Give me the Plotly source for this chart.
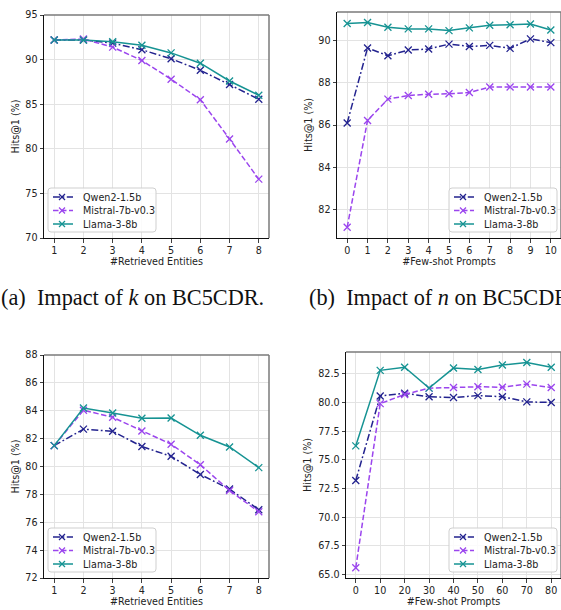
import plotly.graph_objects as go

# ---------------- data ----------------
models = ["Qwen2-1.5b", "Mistral-7b-v0.3", "Llama-3-8b"]

k_values = [1, 2, 3, 4, 5, 6, 7, 8]
n_values_a = [0, 1, 2, 3, 4, 5, 6, 7, 8, 9, 10]
n_values_b = [0, 10, 20, 30, 40, 50, 60, 70, 80]

# (a) impact of k on BC5CDR
qwen_k_bc5 = [92.2, 92.2, 91.85, 91.1, 90.1, 88.8, 87.2, 85.55]
mistral_k_bc5 = [92.2, 92.3, 91.4, 89.9, 87.8, 85.5, 81.1, 76.6]
llama_k_bc5 = [92.2, 92.2, 92.0, 91.6, 90.75, 89.6, 87.6, 86.0]

# (b) impact of n on BC5CDR
qwen_n_bc5 = [86.1, 89.65, 89.28, 89.55, 89.6, 89.83, 89.72, 89.77, 89.63, 90.08, 89.9]
mistral_n_bc5 = [81.17, 86.22, 87.23, 87.4, 87.46, 87.48, 87.54, 87.8, 87.8, 87.8, 87.8]
llama_n_bc5 = [90.81, 90.85, 90.63, 90.55, 90.55, 90.47, 90.6, 90.72, 90.75, 90.78, 90.5]

# (c) impact of k, second dataset
qwen_k_2 = [81.5, 82.68, 82.53, 81.43, 80.73, 79.43, 78.38, 76.9]
mistral_k_2 = [81.5, 84.04, 83.53, 82.55, 81.6, 80.12, 78.28, 76.75]
llama_k_2 = [81.5, 84.2, 83.84, 83.46, 83.48, 82.24, 81.4, 79.92]

# (d) impact of n, second dataset
qwen_n_2 = [73.2, 80.56, 80.8, 80.5, 80.43, 80.6, 80.5, 80.05, 80.0]
mistral_n_2 = [65.6, 79.9, 80.7, 81.25, 81.3, 81.37, 81.33, 81.6, 81.3]
llama_n_2 = [76.22, 82.8, 83.07, 81.25, 83.0, 82.87, 83.27, 83.48, 83.07]

x_titles = ["#Retrieved Entities", "#Few-shot Prompts", "#Retrieved Entities", "#Few-shot Prompts"]
y_title = "Hits@1 (%)"
captions = ["(a)  Impact of <i>k</i> on BC5CDR.", "(b)  Impact of <i>n</i> on BC5CDR."]

# ---------------- styling ----------------
W, H = 561, 610
colors = ["#23238f", "#9b45ee", "#169393"]
dashes = ["7px,2.5px,1.8px,2.5px", "5.5px,2.5px", "solid"]
FONT = "DejaVu Sans"
FS = 9.6


def px_x(p):
    return p / W


def px_y(p):
    return 1 - p / H


panels = [
    dict(x=k_values, ys=[qwen_k_bc5, mistral_k_bc5, llama_k_bc5],
         xd=(44, 269), yd=(15, 238), xr=(0.65, 8.35), yr=(70, 95),
         xt=k_values, yt=[70, 75, 80, 85, 90, 95], yfmt=None, leg=(48, 188)),
    dict(x=n_values_a, ys=[qwen_n_bc5, mistral_n_bc5, llama_n_bc5],
         xd=(337, 561), yd=(12, 238), xr=(-0.5, 10.5), yr=(80.66, 91.35),
         xt=n_values_a, yt=[82, 84, 86, 88, 90], yfmt=None, leg=(449, 188)),
    dict(x=k_values, ys=[qwen_k_2, mistral_k_2, llama_k_2],
         xd=(44, 269), yd=(355, 578), xr=(0.65, 8.35), yr=(72, 88),
         xt=k_values, yt=[72, 74, 76, 78, 80, 82, 84, 86, 88], yfmt=None, leg=(48, 528)),
    dict(x=n_values_b, ys=[qwen_n_2, mistral_n_2, llama_n_2],
         xd=(346, 561), yd=(352, 578), xr=(-4, 84), yr=(64.7, 84.4),
         xt=n_values_b, yt=[65.0, 67.5, 70.0, 72.5, 75.0, 77.5, 80.0, 82.5], yfmt=".1f", leg=(449, 528)),
]

fig = go.Figure()
shapes, annotations = [], []
layout = dict(
    width=W, height=H,
    margin=dict(l=0, r=0, t=0, b=0, autoexpand=False),
    paper_bgcolor="white", plot_bgcolor="white",
    font=dict(family=FONT, size=FS, color="#222"),
    showlegend=False,
)


def add_legend(L, T):
    w, h, r = 108, 44, 3
    x0, x1 = L, L + w
    y0, y1 = T, T + h
    X = lambda v: px_x(v)
    Y = lambda v: px_y(v)
    path = (f"M {X(x0 + r)},{Y(y0)} L {X(x1 - r)},{Y(y0)} Q {X(x1)},{Y(y0)} {X(x1)},{Y(y0 + r)} "
            f"L {X(x1)},{Y(y1 - r)} Q {X(x1)},{Y(y1)} {X(x1 - r)},{Y(y1)} "
            f"L {X(x0 + r)},{Y(y1)} Q {X(x0)},{Y(y1)} {X(x0)},{Y(y1 - r)} "
            f"L {X(x0)},{Y(y0 + r)} Q {X(x0)},{Y(y0)} {X(x0 + r)},{Y(y0)} Z")
    shapes.append(dict(type="path", xref="paper", yref="paper", path=path,
                       fillcolor="rgba(255,255,255,0.85)", line=dict(color="#cfcfcf", width=1),
                       layer="above"))
    for j, m in enumerate(models):
        cy = T + 9 + j * 13.5
        shapes.append(dict(type="line", xref="paper", yref="paper",
                           x0=X(L + 5), x1=X(L + 25), y0=Y(cy), y1=Y(cy), layer="above",
                           line=dict(color=colors[j], width=1.5, dash=dashes[j])))
        cx, s = L + 14, 3
        for dy in (-s, s):
            shapes.append(dict(type="line", xref="paper", yref="paper", layer="above",
                               x0=X(cx - s), x1=X(cx + s), y0=Y(cy - dy), y1=Y(cy + dy),
                               line=dict(color=colors[j], width=1.3)))
        annotations.append(dict(text=m, x=X(L + 33), y=Y(cy), xref="paper", yref="paper",
                                xanchor="left", yanchor="middle", showarrow=False,
                                font=dict(family=FONT, size=FS, color="#222")))


for i, p in enumerate(panels):
    sfx = "" if i == 0 else str(i + 1)
    xa, ya = "x" + sfx, "y" + sfx
    for j, m in enumerate(models):
        fig.add_trace(go.Scatter(
            x=p["x"], y=p["ys"][j], name=m, mode="lines+markers",
            xaxis=xa, yaxis=ya,
            line=dict(color=colors[j], width=1.5, dash=dashes[j]),
            marker=dict(symbol="x-thin", size=7, line=dict(width=1.3, color=colors[j])),
        ))
    axis_common = dict(
        showgrid=True, gridcolor="#e3e3e3", gridwidth=1,
        showline=True, linecolor="#111", linewidth=1,
        ticks="outside", ticklen=3.5, tickwidth=0.8, tickcolor="#111",
        tickfont=dict(family=FONT, size=FS, color="#222"),
        zeroline=False, fixedrange=True, automargin=False,
    )
    layout["xaxis" + sfx] = dict(
        axis_common, domain=[px_x(p["xd"][0]), px_x(p["xd"][1])],
        range=list(p["xr"]), tickvals=p["xt"], anchor=ya,
        title=dict(text=x_titles[i], font=dict(family=FONT, size=FS, color="#222"), standoff=3),
    )
    yax = dict(
        axis_common, domain=[px_y(p["yd"][1]), px_y(p["yd"][0])],
        range=list(p["yr"]), tickvals=p["yt"], anchor=xa,
        title=dict(text=y_title, font=dict(family=FONT, size=FS, color="#222"), standoff=4),
    )
    if p["yfmt"]:
        yax["tickformat"] = p["yfmt"]
    layout["yaxis" + sfx] = yax
    # top / right spines in gray
    shapes.append(dict(type="line", xref=xa + " domain", yref=ya + " domain",
                       x0=0, x1=1, y0=1, y1=1, line=dict(color="#7a7a7a", width=1.5)))
    shapes.append(dict(type="line", xref=xa + " domain", yref=ya + " domain",
                       x0=1, x1=1, y0=0, y1=1, line=dict(color="#7a7a7a", width=1.5)))
    add_legend(*p["leg"])

for c, xpx in zip(captions, [0, 308]):
    annotations.append(dict(
        text=c, x=px_x(xpx), y=px_y(298), xref="paper", yref="paper",
        xanchor="left", yanchor="middle", showarrow=False, borderpad=0,
        font=dict(family="Liberation Serif", size=22.3, color="#111"),
    ))

layout["shapes"] = shapes
layout["annotations"] = annotations
fig.update_layout(**layout)
fig.write_html("out.html", config={"displayModeBar": False, "staticPlot": True},
               post_script="document.body.style.margin='0';document.body.style.padding='0';")
